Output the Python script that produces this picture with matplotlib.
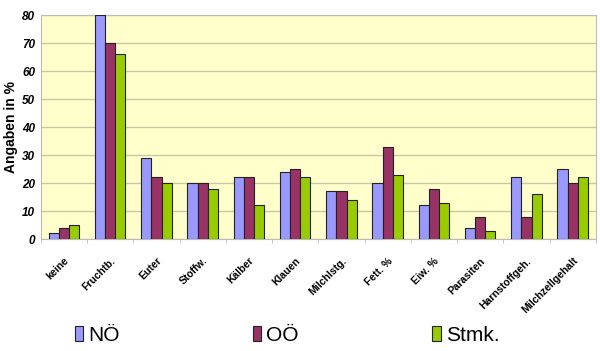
import numpy as np
import matplotlib.pyplot as plt

plt.rcParams['font.family'] = ['Liberation Sans', 'DejaVu Sans']

# Kategorien und Werte (Angaben in %)
categories = ['keine', 'Fruchtb.', 'Euter', 'Stoffw.', 'Kälber', 'Klauen',
              'Milchlstg.', 'Fett. %', 'Eiw. %', 'Parasiten', 'Harnstoffgeh.',
              'Milchzellgehalt']
noe = [2, 80, 29, 20, 22, 24, 17, 20, 12, 4, 22, 25]
ooe = [4, 70, 22, 20, 22, 25, 17, 33, 18, 8, 8, 20]
stmk = [5, 66, 20, 18, 12, 22, 14, 23, 13, 3, 16, 22]
series_names = ['NÖ', 'OÖ', 'Stmk.']
colors = ['#9999FF', '#993366', '#99CC00']

fig = plt.figure(figsize=(6, 3.51), dpi=100)
ax = fig.add_axes([0.068, 0.319, 0.925, 0.638])
ax.set_facecolor('#FFFFCC')

x = np.arange(len(categories))
w = 0.22
for i, (vals, name, col) in enumerate(zip([noe, ooe, stmk], series_names, colors)):
    ax.bar(x + (i - 1) * w, vals, width=w, color=col, edgecolor='#222222',
           linewidth=0.8, label=name, zorder=3)

ax.set_xlim(-0.5, len(categories) - 0.5)
ax.set_ylim(0, 80)
ax.set_yticks(range(0, 81, 10))
ax.yaxis.grid(True, color='#C8C8A8', linewidth=1, zorder=0)
for s in ax.spines.values():
    s.set_color('#BBBBBB')

ax.set_xticks(x)
ax.set_xticklabels(categories, rotation=45, ha='right', rotation_mode='anchor',
                   fontsize=7.5, fontweight='bold')
ax.set_xticks(np.arange(-0.5, len(categories), 1), minor=True)
ax.tick_params(axis='x', which='major', length=0, pad=12)
ax.tick_params(axis='x', which='minor', length=3, color='#BBBBBB')
ax.tick_params(axis='y', length=0, pad=4)
for lab in ax.get_yticklabels():
    lab.set_fontweight('bold')
    lab.set_fontstyle('italic')
    lab.set_fontsize(8.5)
ax.set_ylabel('Angaben in %', fontsize=10, fontweight='bold', labelpad=3)

fig.legend(loc='lower left', bbox_to_anchor=(0.093, -0.035), ncol=3, frameon=False,
           fontsize=15, handlelength=0.4, handleheight=0.75, handletextpad=0.25,
           columnspacing=6.4)

fig.savefig('out.png', dpi=100)
